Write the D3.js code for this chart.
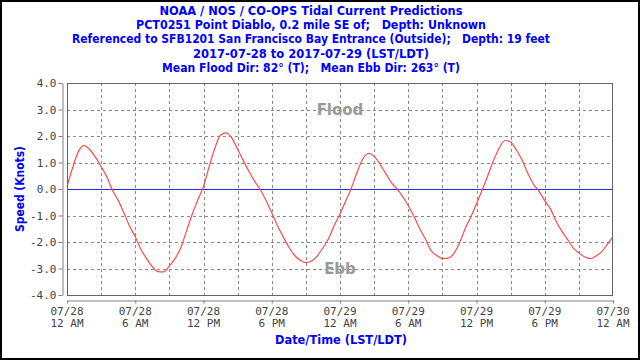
<!DOCTYPE html>
<html><head><meta charset="utf-8">
<script src="https://cdn.jsdelivr.net/npm/d3@7"></script>
<style>
html,body{margin:0;padding:0;background:#fff;}
svg{display:block;}
text{white-space:pre;}
</style></head>
<body>
<svg id="chart" width="640" height="360"></svg>
<script>
// ---- data ----
const titleLines = [
  "NOAA / NOS / CO-OPS Tidal Current Predictions",
  "PCT0251 Point Diablo, 0.2 mile SE of;   Depth: Unknown",
  "Referenced to SFB1201 San Francisco Bay Entrance (Outside);   Depth: 19 feet",
  "2017-07-28 to 2017-07-29 (LST/LDT)",
  "Mean Flood Dir: 82\u00b0 (T);   Mean Ebb Dir: 263\u00b0 (T)"
];
const yLabel = "Speed (Knots)";
const xLabel = "Date/Time (LST/LDT)";
const yTicks = [-4, -3, -2, -1, 0, 1, 2, 3, 4];
const startTime = new Date(2017, 6, 28, 0, 0);
const endTime = new Date(2017, 6, 30, 0, 0);
const stepMinutes = 30;
// speed (knots) every 30 minutes from 2017-07-28 00:00
const speeds = [
  0.09, 0.81, 1.41, 1.65, 1.49, 1.20, 0.85, 0.46, -0.05, -0.43,
  -0.90, -1.40, -1.80, -2.28, -2.63, -2.93, -3.12, -3.13, -2.90, -2.63,
  -2.22, -1.59, -0.96, -0.41, 0.10, 0.85, 1.54, 2.04, 2.12, 1.92,
  1.50, 1.07, 0.66, 0.29, -0.03, -0.43, -0.90, -1.38, -1.80, -2.19,
  -2.50, -2.69, -2.78, -2.72, -2.53, -2.22, -1.87, -1.37, -0.94, -0.46,
  0.04, 0.63, 1.13, 1.35, 1.23, 0.95, 0.60, 0.25, 0.01, -0.28,
  -0.63, -1.03, -1.49, -1.88, -2.32, -2.50, -2.62, -2.61, -2.44, -2.05,
  -1.50, -1.06, -0.56, -0.03, 0.51, 1.08, 1.55, 1.83, 1.77, 1.48,
  1.10, 0.60, 0.19, -0.09, -0.44, -0.75, -1.22, -1.59, -1.90, -2.22,
  -2.41, -2.56, -2.63, -2.53, -2.37, -2.09, -1.80
];
const series = speeds.map((v, i) => ({t: new Date(startTime.getTime() + i * stepMinutes * 60000), v}));

// ---- layout ----
const svg = d3.select("#chart");
const L = 67, R = 613, T = 83, B = 295;
const blue = "#0000ff";
const titleFont = "'DejaVu Sans', sans-serif";
const monoFont = "'DejaVu Sans Mono', monospace";
const titleWidths = [303, 350, 478, 236, 298];

svg.append("rect").attr("x", 1).attr("y", 1).attr("width", 638).attr("height", 358)
  .attr("fill", "#fff").attr("stroke", "#000").attr("stroke-width", 2);

const x = d3.scaleTime().domain([startTime, endTime]).range([L, R]);
const y = d3.scaleLinear().domain([-4, 4]).range([B, T]);

// titles
svg.append("g").selectAll("text").data(titleLines).join("text")
  .attr("x", 311).attr("y", (d, i) => 14.7 + i * 14.3)
  .attr("text-anchor", "middle")
  .attr("textLength", (d, i) => titleWidths[i]).attr("lengthAdjust", "spacingAndGlyphs")
  .attr("font-family", titleFont).attr("font-weight", "bold").attr("font-size", 12.2)
  .attr("fill", blue).text(d => d);

// grid
const grid = svg.append("g").attr("stroke", "#8a8a8a").attr("stroke-dasharray", "3,3").attr("stroke-width", 1);
grid.selectAll("line.h").data(yTicks.filter(d => d !== 0 && d > -4 && d < 4)).join("line")
  .attr("x1", L).attr("x2", R).attr("y1", d => Math.round(y(d)) + 0.5).attr("y2", d => Math.round(y(d)) + 0.5);
const vTimes = x.ticks(d3.timeHour.every(3)).filter(d => d > startTime && d < endTime);
grid.selectAll("line.v").data(vTimes).join("line")
  .attr("y1", T).attr("y2", B).attr("x1", d => Math.round(x(d)) + 0.5).attr("x2", d => Math.round(x(d)) + 0.5);

// zero line
svg.append("line").attr("x1", L).attr("x2", R).attr("y1", Math.round(y(0)) + 0.5).attr("y2", Math.round(y(0)) + 0.5)
  .attr("stroke", "#2a2aff").attr("stroke-width", 1.2);

// flood / ebb
svg.append("text").attr("x", (L + R) / 2).attr("y", 115).attr("text-anchor", "middle")
  .attr("font-family", "'DejaVu Sans', sans-serif").attr("font-weight", "bold").attr("font-size", 15)
  .attr("fill", "#999").text("Flood");
svg.append("text").attr("x", (L + R) / 2).attr("y", 274).attr("text-anchor", "middle")
  .attr("font-family", "'DejaVu Sans', sans-serif").attr("font-weight", "bold").attr("font-size", 15)
  .attr("fill", "#999").text("Ebb");

// curve
const line = d3.line().x(d => x(d.t)).y(d => y(d.v)).curve(d3.curveMonotoneX);
svg.append("path").datum(series).attr("d", line)
  .attr("fill", "none").attr("stroke", "#ff4a4a").attr("stroke-width", 1.2);

// plot border
svg.append("rect").attr("x", L + 0.5).attr("y", T + 0.5).attr("width", R - L - 1).attr("height", B - T)
  .attr("fill", "none").attr("stroke", "#666").attr("stroke-width", 1);

// y axis
const yAxis = svg.append("g").attr("transform", "translate(62.5,0)")
  .call(d3.axisLeft(y).tickValues(yTicks).tickFormat(d3.format(".1f")).tickSize(4).tickSizeOuter(0).tickPadding(2));
yAxis.select(".domain").attr("stroke", "#808080");
yAxis.selectAll(".tick line").attr("stroke", "#808080");
yAxis.selectAll(".tick text").attr("font-family", monoFont).attr("font-size", 11).attr("fill", "#444")
  .text(d => d3.format(".1f")(d).replace("\u2212", "-"));

// x axis
const xTicks = x.ticks(d3.timeHour.every(6));
const xAxis = svg.append("g").attr("transform", "translate(0,300.5)")
  .call(d3.axisBottom(x).tickValues(xTicks).tickSize(3).tickSizeOuter(0).tickFormat(""));
xAxis.select(".domain").attr("stroke", "#808080");
xAxis.selectAll(".tick line").attr("stroke", "#808080");
const fmtD = d3.timeFormat("%m/%d"), fmtH = d3.timeFormat("%-I %p");
const xl = svg.append("g").selectAll("text").data(xTicks).join("text")
  .attr("x", d => x(d)).attr("text-anchor", "middle")
  .attr("font-family", monoFont).attr("font-size", 11).attr("fill", "#444");
xl.append("tspan").attr("x", d => x(d)).attr("y", 315).text(d => fmtD(d));
xl.append("tspan").attr("x", d => x(d)).attr("y", 327).text(d => fmtH(d));

// axis titles
svg.append("text").attr("x", (L + R) / 2 + 1).attr("y", 344).attr("text-anchor", "middle")
  .attr("textLength", 132).attr("lengthAdjust", "spacingAndGlyphs")
  .attr("font-family", titleFont).attr("font-weight", "bold").attr("font-size", 12.2)
  .attr("fill", blue).text(xLabel);
svg.append("text").attr("transform", `translate(24,${(T + B) / 2}) rotate(-90)`).attr("text-anchor", "middle")
  .attr("textLength", 86).attr("lengthAdjust", "spacingAndGlyphs")
  .attr("font-family", titleFont).attr("font-weight", "bold").attr("font-size", 12.2)
  .attr("fill", blue).text(yLabel);
</script>
</body></html>
